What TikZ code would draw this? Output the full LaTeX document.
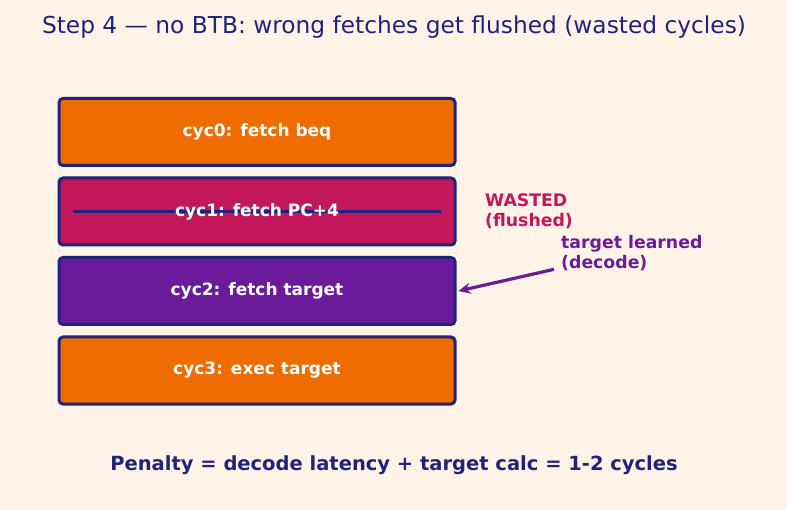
\documentclass[tikz,border=0pt]{standalone}
\usepackage{fontspec}
\setmainfont{DejaVu Sans}
\usepackage{xcolor}
\usetikzlibrary{arrows.meta, positioning, calc}
\definecolor{navy}{RGB}{30, 35, 125}
\definecolor{bgcream}{RGB}{255, 243, 232}
\definecolor{fetchorange}{RGB}{239, 108, 0}
\definecolor{flushred}{RGB}{194, 24, 91}
\definecolor{learnpurple}{RGB}{106, 27, 154}

\begin{document}
\begin{tikzpicture}[
    x=1pt, y=-1pt,
    node distance=9.5pt,
    cycbox/.style={rectangle, draw=navy, line width=3pt, rounded corners=4pt, minimum width=396pt, minimum height=67pt, text=white, font=\fontsize{17}{20}\selectfont\bfseries},
    cyclabel/.style={text=white, font=\fontsize{17}{20}\selectfont\bfseries},
    note/.style={align=left, inner sep=0pt, font=\fontsize{17.3}{20.5}\selectfont\bfseries},
    arrow/.style={-{Stealth[length=12pt, width=11pt]}, line width=3.2pt, color=learnpurple}
]
    \fill[bgcream] (0,0) rectangle (787,510);
    \useasboundingbox (0,0) rectangle (787,510);

    \node[text=navy, font=\fontsize{23.3}{27}\selectfont] (title) at (394,27) {Step 4 — no BTB: wrong fetches get flushed (wasted cycles)};

    \node[cycbox, fill=fetchorange] (c0) at (257,132) {cyc0: fetch beq};
    \node[cycbox, fill=flushred, below=of c0] (c1) {};
    \node[cycbox, fill=learnpurple, below=of c1] (c2) {cyc2: fetch target};
    \node[cycbox, fill=fetchorange, below=of c2] (c3) {cyc3: exec target};

    % strike-through for the flushed fetch
    \coordinate (strikeL) at ($(c1.west)+(15,0)$);
    \coordinate (strikeR) at ($(c1.east)+(-16,0)$);
    \draw[navy, line width=3pt] (strikeL) -- (strikeR);
    \node[cyclabel] (c1text) at (c1.center) {cyc1: fetch PC+4};

    \node[note, text=flushred, anchor=north west] (wasted) at (485,193) {WASTED\\(flushed)};
    \node[note, text=learnpurple, anchor=north west] (learn) at (561,235) {target learned\\(decode)};

    \coordinate (learnstart) at ($(learn.south west)+(-7,-2)$);
    \draw[arrow] (learnstart) -- ([xshift=2pt]c2.east);

    \node[text=navy, font=\fontsize{19.5}{23}\selectfont\bfseries] (penalty) at (394,465) {Penalty = decode latency + target calc = 1-2 cycles};
\end{tikzpicture}
\end{document}
